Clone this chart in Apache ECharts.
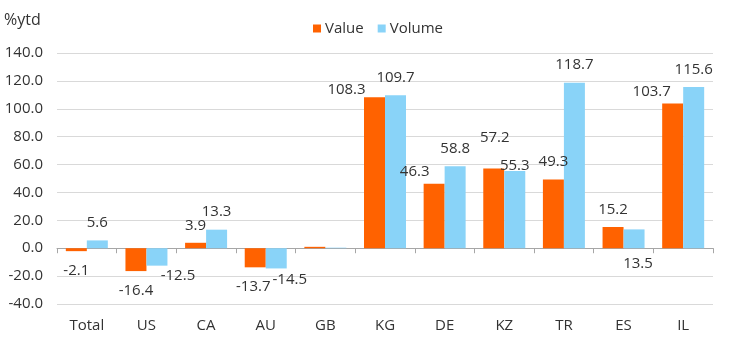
<!DOCTYPE html>
<html>
<head>
<meta charset="utf-8">
<script src="https://cdn.jsdelivr.net/npm/echarts@6/dist/echarts.min.js"></script>
<style>html,body{margin:0;padding:0;background:#fff}#c{width:747px;height:345px}</style>
</head>
<body>
<div id="c"></div>
<script>
const categories = ['Total','US','CA','AU','GB','KG','DE','KZ','TR','ES','IL'];
const valueData  = [-2.1, -16.4, 3.9, -13.7, 1.0, 108.3, 46.3, 57.2, 49.3, 15.2, 103.7];
const volumeData = [5.6, -12.5, 13.3, -14.5, 0.4, 109.7, 58.8, 55.3, 118.7, 13.5, 115.6];
const yTicks = {min: -40, max: 140, interval: 20};

// label placement tweaks (styling only)
const valueLabelOffsets  = [[0,0],[0,0],[0,0],[-2,0],null,[-28,10],[-19.5,6],[1,-13],[0,0],[0,0],[-21,6]];
const volumeLabelOffsets = [[0,0],[21,-9],[0,0],[13.5,-8.5],null,[0,0],[0,0],[0,12.5],[0,0],[4,52],[0,0]];

const FONT = 'Open Sans';
const TXT = '#333';

function buildData(vals, offs) {
  return vals.map((v, i) => {
    const off = offs[i];
    if (!off) return {value: v, label: {show: false}};
    return {
      value: v,
      label: {
        show: true,
        position: v < 0 ? 'bottom' : 'top',
        distance: v < 0 ? 12 : 10,
        offset: off
      }
    };
  });
}

const chart = echarts.init(document.getElementById('c'), null, {renderer: 'canvas'});
chart.setOption({
  animation: false,
  textStyle: {fontFamily: FONT},
  title: {
    text: '%ytd', left: 4, top: 12, padding: 0,
    textStyle: {fontFamily: FONT, fontSize: 16, fontWeight: 'normal', color: TXT}
  },
  legend: {
    left: 308, top: 16, itemWidth: 8, itemHeight: 8, itemGap: 14,
    icon: 'rect',
    textStyle: {fontFamily: FONT, fontSize: 15, color: TXT, padding: [0,0,0,-1]},
    data: ['Value', 'Volume']
  },
  grid: {left: 57, right: 34, top: 53, bottom: 41, containLabel: false, outerBoundsMode: 'none'},
  xAxis: [
    {
      type: 'category',
      data: categories,
      axisLine: {onZero: true, lineStyle: {color: '#a6a6a6', width: 1}},
      axisTick: {show: true, alignWithLabel: false, length: 5, lineStyle: {color: '#a6a6a6'}},
      axisLabel: {show: false}
    },
    {
      type: 'category',
      position: 'bottom',
      data: categories,
      axisLine: {show: false, onZero: false},
      axisTick: {show: false},
      axisLabel: {margin: 14, fontFamily: FONT, fontSize: 15, color: TXT}
    }
  ],
  yAxis: {
    type: 'value',
    min: yTicks.min, max: yTicks.max, interval: yTicks.interval,
    axisLine: {show: false},
    axisTick: {show: false},
    axisLabel: {margin: 14, fontFamily: FONT, fontSize: 15, color: TXT, formatter: v => v.toFixed(1)},
    splitLine: {lineStyle: {color: '#d9d9d9', width: 1}}
  },
  series: [
    {
      name: 'Value', type: 'bar', barWidth: 21, barGap: '0%', xAxisIndex: 0,
      itemStyle: {color: '#FF6200'},
      label: {fontFamily: FONT, fontSize: 15, color: TXT, formatter: p => p.value.toFixed(1)},
      data: buildData(valueData, valueLabelOffsets)
    },
    {
      name: 'Volume', type: 'bar', barWidth: 21, barGap: '0%', xAxisIndex: 0,
      itemStyle: {color: '#89D3F8'},
      label: {fontFamily: FONT, fontSize: 15, color: TXT, formatter: p => p.value.toFixed(1)},
      data: buildData(volumeData, volumeLabelOffsets)
    }
  ]
});
</script>
</body>
</html>
